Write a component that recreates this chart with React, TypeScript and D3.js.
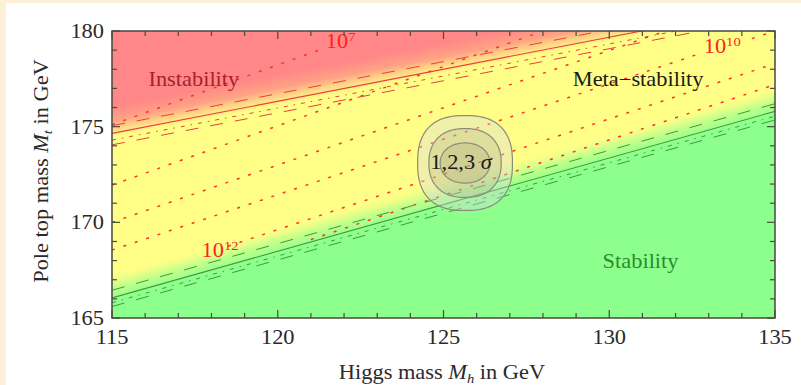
import React from "react";
import * as d3 from "d3";

const W = 801;
const H = 385;

// axes
const xDomain = [115, 135];
const yDomain = [165, 180];
const xTickLabels = [115, 120, 125, 130, 135];
const yTickLabels = [165, 170, 175, 180];

// boundary lines, [Mh, Mt] end points
const instabUpper: [number, number][] = [[115, 175.05], [135, 181.75]];
const instabCentral: [number, number][] = [[115, 174.65], [135, 181.35]];
const instabLower: [number, number][] = [[115, 174.3], [135, 181.0]];
const instabLower2: [number, number][] = [[115, 174.05], [135, 180.75]];

const stabUpper: [number, number][] = [[115, 166.45], [135, 176.2]];
const stabCentral: [number, number][] = [[115, 166.05], [135, 175.8]];
const stabLower: [number, number][] = [[115, 165.8], [135, 175.55]];
const stabLower2: [number, number][] = [[115, 165.6], [135, 175.35]];

// instability scale contours (dotted), [Mh, Mt]
const contourNames = ["1e7", "1e8", "1e9", "1e10a", "1e10b", "1e12", "1e14"];
const contourPts: [number, number][][] = [
  [[115, 175.1], [121.4, 179.1]],
  [[115, 171.95], [128.0, 180.0]],
  [[115, 170.0], [131.7, 180.0]],
  [[115, 168.55], [132.7, 178.8]],
  [[134.3, 179.6], [135, 180.0]],
  [[118.5, 168.75], [135, 178.3]],
  [[121, 169.1], [135, 177.2]],
];
const contourLabelBase = ["10", "10", "10"];
const contourLabelExp = ["7", "10", "12"];
const contourLabelAt: [number, number][] = [[121.45, 179.1], [132.85, 178.85], [117.7, 168.2]];

// experimental 1,2,3 sigma regions
const sigmaCenter: [number, number] = [125.65, 173.1];
const sigmaRx = [0.75, 1.09, 1.43];
const sigmaRy = [1.05, 1.8, 2.48];

const regionNames = ["Instability", "Meta\u2212stability", "Stability"];
const regionAt: [number, number][] = [[116.1, 177.15], [128.9, 177.15], [129.8, 167.6]];

const x = d3.scaleLinear().domain(xDomain).range([112, 775]);
const y = d3.scaleLinear().domain(yDomain).range([318, 31]);

const serif = "'Liberation Serif', 'Times New Roman', serif";
const SX = 1.12;

const line = d3.line<[number, number]>().x(d => x(d[0])).y(d => y(d[1]));

// perpendicular gradient across a straight boundary
function gradFor(pts: [number, number][], from: number, to: number) {
  const [a, b] = pts;
  const mh = (a[0] + b[0]) / 2;
  const slope = (b[1] - a[1]) / (b[0] - a[0]);
  const mt = a[1] + slope * (mh - a[0]);
  const dx = x(b[0]) - x(a[0]);
  const dy = y(b[1]) - y(a[1]);
  const len = Math.hypot(dx, dy);
  const nx = -dy / len, ny = dx / len;
  const p0 = [x(mh), y(mt + from)];
  const p1 = [x(mh), y(mt + to)];
  const t = (p1[0] - p0[0]) * nx + (p1[1] - p0[1]) * ny;
  return { x1: p0[0], y1: p0[1], x2: p0[0] + nx * t, y2: p0[1] + ny * t };
}

function blob(rx: number, ry: number, p: number) {
  const pts: [number, number][] = d3.range(0, 144).map(i => {
    const t = (i / 144) * 2 * Math.PI;
    const c = Math.cos(t), s = Math.sin(t);
    return [
      sigmaCenter[0] + rx * Math.sign(c) * Math.pow(Math.abs(c), 2 / p),
      sigmaCenter[1] + ry * Math.sign(s) * Math.pow(Math.abs(s), 2 / p),
    ];
  });
  return d3.line<[number, number]>().x(d => x(d[0])).y(d => y(d[1])).curve(d3.curveLinearClosed)(pts) || "";
}

const Txt = ({ px, py, children, size = 20, fill = "#222", anchor = "start", rot = 0 }: any) => (
  <g transform={`translate(${px},${py}) rotate(${rot}) scale(${SX},1)`}>
    <text fontFamily={serif} fontSize={size} fill={fill} textAnchor={anchor}>{children}</text>
  </g>
);

export default function App() {
  const [x0, x1] = x.range();
  const [y0, y1] = y.range();
  const redG = gradFor(instabCentral, 1.4, -0.25);
  const greenG = gradFor(stabCentral, -0.2, 1.2);
  const minorX = d3.range(115, 135.01, 1);
  const minorY = d3.range(165, 180.01, 1);

  return (
    <svg width={W} height={H} style={{ position: "fixed", left: 0, top: 0 }}>
      <defs>
        <clipPath id="plot">
          <rect x={x0} y={y1} width={x1 - x0} height={y0 - y1} />
        </clipPath>
        <linearGradient id="redG" gradientUnits="userSpaceOnUse" {...redG}>
          <stop offset="0" stopColor="#ff8787" stopOpacity={1} />
          <stop offset="0.45" stopColor="#ff8c84" stopOpacity={0.8} />
          <stop offset="1" stopColor="#ffb080" stopOpacity={0} />
        </linearGradient>
        <linearGradient id="greenG" gradientUnits="userSpaceOnUse" {...greenG}>
          <stop offset="0" stopColor="#8cff8c" stopOpacity={1} />
          <stop offset="0.5" stopColor="#a0ff8c" stopOpacity={0.65} />
          <stop offset="1" stopColor="#c8ff8c" stopOpacity={0} />
        </linearGradient>
      </defs>
      <rect width={W} height={H} fill="#fdf0d8" />
      <rect x={6} y={3} width={W - 6} height={H - 3} fill="#ffffff" />

      <g clipPath="url(#plot)">
        <rect x={x0} y={y1} width={x1 - x0} height={y0 - y1} fill="#ffff87" />
        <rect x={x0} y={y1} width={x1 - x0} height={y0 - y1} fill="url(#redG)" />
        <rect x={x0} y={y1} width={x1 - x0} height={y0 - y1} fill="url(#greenG)" />

        {contourPts.map((pts, i) => (
          <path key={contourNames[i]} d={line(pts) || ""} fill="none" stroke="#ff3030" strokeWidth={1.5} strokeDasharray="3,9" />
        ))}

        <path d={line(instabUpper) || ""} fill="none" stroke="#e84040" strokeWidth={1} strokeDasharray="13,12" />
        <path d={line(instabCentral) || ""} fill="none" stroke="#e84040" strokeWidth={1.1} />
        <path d={line(instabLower) || ""} fill="none" stroke="#e84040" strokeWidth={1} strokeDasharray="4,6,1.5,6" />
        <path d={line(instabLower2) || ""} fill="none" stroke="#e84040" strokeWidth={1} strokeDasharray="13,12" />

        <path d={line(stabUpper) || ""} fill="none" stroke="#3c9c3c" strokeWidth={1} strokeDasharray="13,12" />
        <path d={line(stabCentral) || ""} fill="none" stroke="#3c9c3c" strokeWidth={1.1} />
        <path d={line(stabLower) || ""} fill="none" stroke="#3c9c3c" strokeWidth={1} strokeDasharray="4,6,1.5,6" />
        <path d={line(stabLower2) || ""} fill="none" stroke="#3c9c3c" strokeWidth={1} strokeDasharray="13,12" />

        <path d={blob(sigmaRx[2], sigmaRy[2], 2.5)} fill="rgba(215,215,225,0.38)" stroke="#8c8c78" strokeWidth={1.2} />
        <path d={blob(sigmaRx[1], sigmaRy[1], 2.3)} fill="rgba(150,150,110,0.2)" stroke="#8c8c78" strokeWidth={1.2} />
        <path d={blob(sigmaRx[0], sigmaRy[0], 2.1)} fill="rgba(150,150,110,0.2)" stroke="#8c8c78" strokeWidth={1.2} />
      </g>

      {contourLabelAt.map((p, i) => (
        <g key={i} transform={`translate(${x(p[0])},${y(p[1])}) scale(${SX},1)`}>
          <text fontFamily={serif} fontSize={20} fill="#ff2020">
            {contourLabelBase[i]}
            <tspan fontSize={13} dy={-7}>{contourLabelExp[i]}</tspan>
          </text>
        </g>
      ))}

      <Txt px={x(sigmaCenter[0]) - 4} py={y(sigmaCenter[1]) + 6} anchor="middle" fill="#1a1a1a">
        1,2,3 <tspan fontStyle="italic">σ</tspan>
      </Txt>

      <Txt px={x(regionAt[0][0])} py={y(regionAt[0][1])} fill="#a8222c">{regionNames[0]}</Txt>
      <Txt px={x(regionAt[1][0])} py={y(regionAt[1][1])} fill="#1a1a1a">{regionNames[1]}</Txt>
      <Txt px={x(regionAt[2][0])} py={y(regionAt[2][1])} fill="#2c8c2c">{regionNames[2]}</Txt>

      {/* frame and ticks */}
      <g stroke="#4a4a40" strokeWidth={1.2}>
        {minorX.map(v => {
          const L = v % 5 === 0 ? 8 : 5;
          return (
            <g key={"x" + v}>
              <line x1={x(v)} x2={x(v)} y1={y0} y2={y0 - L} />
              <line x1={x(v)} x2={x(v)} y1={y1} y2={y1 + L} />
            </g>
          );
        })}
        {minorY.map(v => {
          const L = v % 5 === 0 ? 8 : 5;
          return (
            <g key={"y" + v}>
              <line y1={y(v)} y2={y(v)} x1={x0} x2={x0 + L} />
              <line y1={y(v)} y2={y(v)} x1={x1} x2={x1 - L} />
            </g>
          );
        })}
        <rect x={x0} y={y1} width={x1 - x0} height={y0 - y1} fill="none" strokeWidth={1.5} />
      </g>

      {xTickLabels.map(v => (
        <Txt key={v} px={x(v)} py={344} anchor="middle" fill="#2a2a2a">{v}</Txt>
      ))}
      {yTickLabels.map(v => (
        <Txt key={v} px={104} py={y(v) + 7} anchor="end" fill="#2a2a2a">{v}</Txt>
      ))}

      <Txt px={442} py={379} anchor="middle" fill="#2a2a2a">
        Higgs mass <tspan fontStyle="italic">M</tspan>
        <tspan fontStyle="italic" fontSize={13} dy={4}>h</tspan>
        <tspan dy={-4}> in GeV</tspan>
      </Txt>
      <Txt px={48} py={171} anchor="middle" rot={-90} fill="#2a2a2a">
        Pole top mass <tspan fontStyle="italic">M</tspan>
        <tspan fontStyle="italic" fontSize={13} dy={4}>t</tspan>
        <tspan dy={-4}> in GeV</tspan>
      </Txt>
    </svg>
  );
}
